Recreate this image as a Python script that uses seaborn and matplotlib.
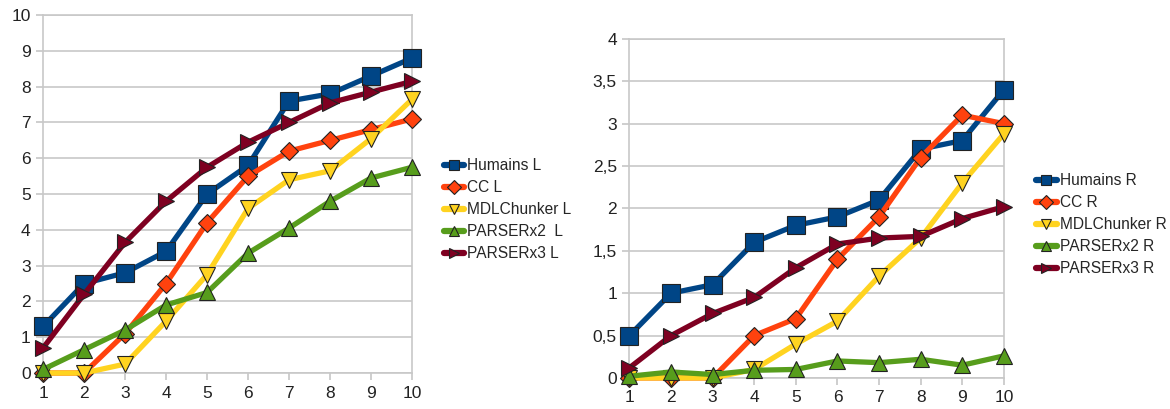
import matplotlib
matplotlib.use("Agg")
import matplotlib.pyplot as plt
import seaborn as sns
import pandas as pd

x = [1, 2, 3, 4, 5, 6, 7, 8, 9, 10]

humains_L = [1.3, 2.5, 2.8, 3.4, 5.0, 5.8, 7.6, 7.8, 8.3, 8.8]
cc_L = [0.0, 0.0, 1.1, 2.5, 4.2, 5.5, 6.2, 6.5, 6.8, 7.1]
mdl_L = [0.0, 0.0, 0.25, 1.45, 2.75, 4.6, 5.4, 5.65, 6.55, 7.65]
px2_L = [0.1, 0.65, 1.2, 1.9, 2.25, 3.35, 4.05, 4.8, 5.45, 5.75]
px3_L = [0.7, 2.2, 3.65, 4.8, 5.75, 6.45, 7.0, 7.55, 7.85, 8.15]

humains_R = [0.5, 1.0, 1.1, 1.6, 1.8, 1.9, 2.1, 2.7, 2.8, 3.4]
cc_R = [0.0, 0.0, 0.0, 0.5, 0.7, 1.4, 1.9, 2.6, 3.1, 3.0]
mdl_R = [0.0, 0.0, 0.0, 0.1, 0.4, 0.67, 1.2, 1.65, 2.3, 2.88]
px2_R = [0.02, 0.07, 0.04, 0.09, 0.1, 0.2, 0.18, 0.22, 0.15, 0.26]
px3_R = [0.12, 0.5, 0.76, 0.95, 1.3, 1.58, 1.65, 1.67, 1.88, 2.02]

names_L = ["Humains L", "CC L", "MDLChunker L", "PARSERx2  L", "PARSERx3 L"]
names_R = ["Humains R", "CC R", "MDLChunker R", "PARSERx2 R", "PARSERx3 R"]

yticks_L = [0, 1, 2, 3, 4, 5, 6, 7, 8, 9, 10]
ylabels_L = ["0", "1", "2", "3", "4", "5", "6", "7", "8", "9", "10"]
yticks_R = [0, 0.5, 1, 1.5, 2, 2.5, 3, 3.5, 4]
ylabels_R = ["0", "0,5", "1", "1,5", "2", "2,5", "3", "3,5", "4"]

colors = ["#004586", "#ff420e", "#ffd320", "#579d1c", "#7e0021"]
markers = ["s", "D", "v", "^", ">"]
msizes = [13, 9, 11, 11, 12]

sns.set_theme(style="white")
plt.rcParams["font.family"] = ["Liberation Sans", "DejaVu Sans"]

fig = plt.figure(figsize=(11.7, 4.09), dpi=100)
axL = fig.add_axes([0.0368, 0.088, 0.3154, 0.875])
axR = fig.add_axes([0.538, 0.076, 0.320, 0.829])


def draw(ax, series, names, yticks, ylabels, ymax, legend_anchor):
    df = pd.DataFrame({"x": x * len(series),
                       "y": [v for s in series for v in s],
                       "name": [n for n in names for _ in x]})
    for i, n in enumerate(names):
        sub = df[df["name"] == n]
        sns.lineplot(data=sub, x="x", y="y", ax=ax, color=colors[i],
                     linewidth=3.8, marker=markers[i], markersize=msizes[i],
                     markeredgecolor="#222222", markeredgewidth=0.8,
                     label=n, zorder=3 + i, clip_on=False)
    ax.set_xlim(1, 10)
    ax.set_ylim(0, ymax)
    ax.set_xticks(x)
    ax.set_xticklabels([str(v) for v in x], fontsize=12.5, color="#222222")
    ax.set_yticks(yticks)
    ax.set_yticklabels(ylabels, fontsize=12.5, color="#222222")
    ax.set_xlabel("")
    ax.set_ylabel("")
    ax.grid(axis="y", color="#c8c8c8", linewidth=1.2)
    ax.set_axisbelow(True)
    for sp in ax.spines.values():
        sp.set_color("#c8c8c8")
        sp.set_linewidth(1.2)
    ax.tick_params(axis="x", bottom=True, length=5, color="#c8c8c8", pad=4)
    ax.tick_params(axis="y", left=True, length=5, color="#c8c8c8", pad=4)
    leg = ax.legend(loc="center left", bbox_to_anchor=legend_anchor,
                    frameon=False, fontsize=11.2, handlelength=1.3,
                    handletextpad=0.2, labelspacing=0.45, borderaxespad=0)
    for h in leg.get_lines():
        h.set_markersize(7)
        h.set_linewidth(4.5)


draw(axL, [humains_L, cc_L, mdl_L, px2_L, px3_L], names_L, yticks_L, ylabels_L,
     10, (1.07, 0.456))
draw(axR, [humains_R, cc_R, mdl_R, px2_R, px3_R], names_R, yticks_R, ylabels_R,
     4, (1.07, 0.451))

fig.savefig("out.png", dpi=100)
